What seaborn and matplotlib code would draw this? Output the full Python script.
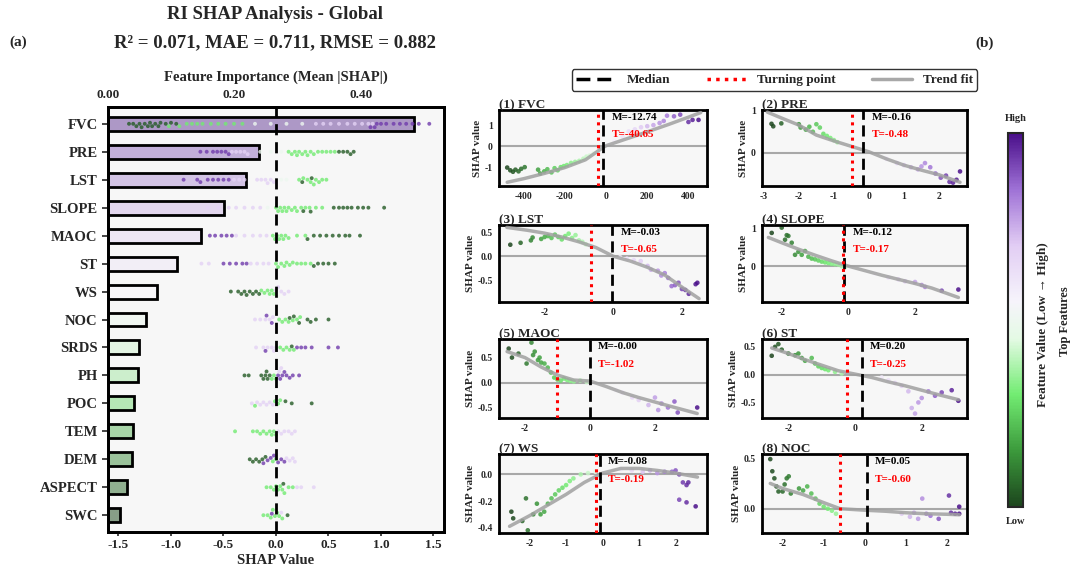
import numpy as np
import pandas as pd
import matplotlib
matplotlib.use("Agg")
import matplotlib.pyplot as plt
import seaborn as sns
from matplotlib.colors import LinearSegmentedColormap, Normalize
from matplotlib.cm import ScalarMappable
from matplotlib.lines import Line2D

sns.set_style("white")
plt.rcParams['font.family'] = ['Liberation Serif', 'DejaVu Serif']
plt.rcParams['font.weight'] = 'bold'
plt.rcParams['axes.labelweight'] = 'bold'
plt.rcParams['axes.titleweight'] = 'bold'
plt.rcParams['axes.unicode_minus'] = False

# ---------------- data: panel (a) ----------------
features = ["FVC", "PRE", "LST", "SLOPE", "MAOC", "ST", "WS", "NOC",
            "SRDS", "PH", "POC", "TEM", "DEM", "ASPECT", "SWC"]
importance = [0.484, 0.239, 0.218, 0.183, 0.147, 0.109, 0.077, 0.060,
              0.049, 0.047, 0.041, 0.040, 0.038, 0.030, 0.019]

# SHAP values per feature and feature-value level (0 low ... 4 high)
fvc_shap = [-1.40, -1.36, -1.33, -1.30, -1.28, -1.25, -1.22, -1.20, -1.18, -1.15, -1.12, -1.10, -1.05, -1.00, -0.95,
            -1.02, -0.92, -0.85, -0.80, -0.75, -0.70, -0.62, -0.55, -0.48, -0.40, -0.32,
            -0.20, -0.05, 0.10, 0.25,
            0.38, 0.45, 0.52, 0.60, 0.68, 0.75, 0.82, 0.88, 0.92,
            0.90, 0.94, 0.96, 1.00, 1.05, 1.12, 1.18, 1.24, 1.30, 1.36, 1.46]
fvc_lvl = [0] * 15 + [1] * 11 + [2] * 4 + [3] * 9 + [4] * 11
pre_shap = [-0.72, -0.66, -0.60, -0.56, -0.52, -0.48, -0.45,
            -0.42, -0.38, -0.34, -0.30, -0.27,
            -0.15, -0.05, 0.05,
            0.12, 0.15, 0.18, 0.20, 0.22, 0.25, 0.28, 0.30, 0.33, 0.36, 0.40, 0.44, 0.48, 0.52, 0.56,
            0.60, 0.64, 0.68, 0.71, 0.74]
pre_lvl = [4] * 7 + [3] * 5 + [2] * 3 + [1] * 15 + [0] * 5
lst_shap = [-0.88, -0.75, -0.72, -0.65, -0.60, -0.55, -0.50, -0.45,
            -0.40, -0.35, -0.30, -0.18, -0.14, -0.10, -0.08, -0.05, -0.02,
            0.05, 0.10,
            0.22, 0.26, 0.30, 0.33, 0.36, 0.38, 0.41, 0.44, 0.48,
            0.25, 0.34]
lst_lvl = [4] * 8 + [3] * 9 + [2] * 2 + [1] * 9 + [0] * 2
slope_shap = [-0.65, -0.55, -0.45, -0.38, -0.30, -0.22, -0.15,
              -0.08,
              0.00, 0.02, 0.04, 0.06, 0.08, 0.10, 0.12, 0.15, 0.18, 0.20, 0.24, 0.28, 0.32, 0.38, 0.44,
              0.26, 0.33, 0.55, 0.60, 0.64, 0.68, 0.72, 0.78, 0.83, 0.88, 1.03]
slope_lvl = [3] * 7 + [2] + [1] * 15 + [0] * 11
maoc_shap = [-0.63, -0.58, -0.52, -0.47, -0.42,
             -0.38, -0.30, -0.22, -0.15, -0.09,
             -0.03, -0.01, 0.01, 0.03, 0.05, 0.07, 0.09, 0.12, 0.20, 0.28,
             0.30, 0.36, 0.42, 0.48, 0.54, 0.60, 0.66, 0.70, 0.80]
maoc_lvl = [4] * 5 + [3] * 5 + [1] * 10 + [0] * 9
st_shap = [-0.71, -0.64,
           -0.50, -0.44, -0.38, -0.32, -0.28,
           -0.24, -0.18, -0.12, -0.07,
           0.00, 0.02, 0.05, 0.08, 0.10, 0.13, 0.16, 0.20, 0.24, 0.28, 0.33,
           0.36, 0.40, 0.45, 0.50, 0.56]
st_lvl = [3] * 2 + [4] * 5 + [3] * 4 + [1] * 11 + [0] * 5
ws_shap = [-0.43, -0.36, -0.33, -0.30, -0.28, -0.25, -0.22, -0.19, -0.16,
           -0.14, -0.11, -0.08, -0.06, -0.04, -0.02,
           0.00, 0.02, 0.05, 0.08, 0.12, 0.01]
ws_lvl = [0] * 9 + [1] * 6 + [3] * 5 + [2]
noc_shap = [-0.20, -0.15, -0.10, -0.06, -0.03,
            -0.09, -0.04,
            0.03, 0.06, 0.09, 0.12, 0.16, 0.20, 0.23,
            0.13, 0.17, 0.22, 0.30, 0.33, 0.38, 0.50]
noc_lvl = [3] * 5 + [4] * 2 + [1] * 7 + [0] * 7
srds_shap = [-0.19, -0.12, -0.08, -0.04, 0.00, -0.02,
             -0.10, 0.20, 0.24, 0.28, 0.34, 0.50, 0.59,
             0.04, 0.07, 0.10, 0.13, 0.17,
             0.15]
srds_lvl = [3] * 6 + [4] * 7 + [1] * 5 + [0]
ph_shap = [-0.30, -0.26, -0.14, -0.12, -0.10, -0.09, -0.08, -0.06,
           -0.04, -0.02, 0.00,
           0.02, 0.04, 0.06, 0.08, 0.10, 0.13, 0.16, 0.22,
           0.03, 0.05]
ph_lvl = [0] * 8 + [1] * 3 + [4] * 8 + [3] * 2
poc_shap = [-0.23, -0.18, -0.15, -0.12, -0.09, -0.06, -0.03,
            -0.20, -0.01, 0.02, 0.04,
            0.09, 0.15, 0.34,
            0.06]
poc_lvl = [3] * 7 + [1] * 4 + [0] * 3 + [2]
tem_shap = [-0.39, -0.22, -0.18, -0.15, -0.12, -0.09, -0.06, -0.04, -0.02, 0.00,
            0.02, 0.05, 0.08, 0.12, 0.15, 0.18]
tem_lvl = [1] * 10 + [3] * 6
dem_shap = [-0.25, -0.22, -0.19, -0.16, -0.13, -0.10,
            -0.12, -0.08, -0.05, -0.02, 0.02, 0.05, 0.08,
            0.10, 0.13, 0.16, 0.18,
            -0.03, 0.00]
dem_lvl = [0] * 6 + [4] * 7 + [3] * 4 + [1] * 2
aspect_shap = [-0.09, -0.05, -0.02, 0.00, 0.02, 0.04, 0.06, 0.08, 0.12, 0.16,
               0.07,
               0.20, 0.24, 0.36]
aspect_lvl = [1] * 10 + [0] + [3] * 3
swc_shap = [-0.12, -0.08, -0.05, -0.03, -0.01, 0.01, 0.03, 0.06,
            -0.04, 0.11, 0.05]
swc_lvl = [1] * 8 + [4, 0, 3]

# ---------------- data: panel (b) dependence plots ----------------
dep_names = ["FVC", "PRE", "LST", "SLOPE", "MAOC", "ST", "WS", "NOC"]
medians = [-12.74, -0.16, -0.03, -0.12, -0.00, 0.20, -0.08, 0.05]
turning = [-40.65, -0.48, -0.65, -0.17, -1.02, -0.25, -0.19, -0.60]

fvc_x = [-480, -465, -452, -440, -425, -412, -395, -330,
         -320, -300, -285, -265, -250, -235, -220, -205, -190, -170, -150, -130, -110, -95, -80, -60,
         40, 80, 110, 140, 170, 200, 230, 260, 280,
         296, 330, 360, 400, 420, 449]
fvc_y = [-1.02, -1.15, -1.22, -1.12, -1.20, -1.08, -1.00, -1.12,
         -1.30, -1.20, -1.10, -1.25, -1.05, -1.15, -1.00, -0.95, -0.90, -0.80, -0.75, -0.70, -0.60, -0.50, -0.45, -0.35,
         0.25, 0.45, 0.70, 0.80, 0.90, 0.95, 1.00, 1.10, 1.20,
         1.45, 1.42, 1.50, 1.15, 1.25, 1.25]
pre_x = [-2.78, -2.73, -2.50,
         -2.0, -1.95, -1.8, -1.7, -1.6, -1.5, -1.4, -1.3, -1.2, -1.1, -1.0, -0.9,
         0.5, 0.8, 1.0, 1.2, 1.4, 1.5, 1.6, 1.75, 1.9,
         2.05, 2.2, 2.3, 2.4, 2.5, 2.6]
pre_y = [0.69, 0.63, 0.70,
         0.68, 0.60, 0.55, 0.62, 0.50, 0.68, 0.60, 0.45, 0.40, 0.35, 0.30, 0.25,
         -0.15, -0.25, -0.30, -0.35, -0.40, -0.33, -0.25, -0.35, -0.50,
         -0.60, -0.55, -0.70, -0.72, -0.65, -0.45]
lst_x = [-3.0, -2.7, -2.4, -2.35,
         -2.1, -2.0, -1.9, -1.8, -1.7, -1.6, -1.5, -1.4, -1.3, -1.2, -1.1, -1.0, -0.9, -0.8,
         0.2, 0.4, 0.6, 0.8, 1.0, 1.1,
         1.3, 1.4, 1.5, 1.6, 1.7, 1.8, 1.9, 2.0, 2.1, 2.2, 2.4, 2.45]
lst_y = [0.24, 0.28, 0.33, 0.39,
         0.36, 0.40, 0.42, 0.38, 0.45, 0.40, 0.35, 0.42, 0.47, 0.38, 0.44, 0.33, 0.30, 0.25,
         -0.02, -0.05, -0.08, -0.10, -0.20, -0.28,
         -0.30, -0.40, -0.35, -0.45, -0.62, -0.60, -0.55, -0.68, -0.70, -0.78, -0.58, -0.55]
slope_x = [-2.3, -2.0, -1.9, -1.85, -1.8, -1.7,
           -1.6, -1.5, -1.4, -1.3, -1.2, -1.1, -1.0, -0.9, -0.8, -0.7, -0.6, -0.5, -0.4, -0.3, -0.2, -0.1,
           0.8, 1.2, 1.5, 1.7, 2.0, 2.2,
           2.3, 2.8, 3.3]
slope_y = [0.88, 1.02, 0.70, 0.82, 0.80, 0.62,
           0.30, 0.38, 0.30, 0.40, 0.25, 0.20, 0.18, 0.15, 0.12, 0.10, 0.08, 0.06, 0.05, 0.04, 0.00, -0.02,
           -0.20, -0.30, -0.35, -0.40, -0.42, -0.50,
           -0.55, -0.65, -0.62]
maoc_x = [-2.5, -2.4, -2.2, -1.95,
          -1.8, -1.75, -1.7, -1.6, -1.55, -1.5, -1.4, -1.3, -1.2, -1.1, -1.0, -0.9, -0.8, -0.7, -0.6, -0.5, -0.3, -0.1,
          0.8, 1.0, 1.3, 1.5, 1.8, 2.0, 2.1,
          2.2, 2.4, 2.6, 2.7, 3.3]
maoc_y = [0.68, 0.50, 0.58, 0.38,
          0.80, 0.55, 0.62, 0.45, 0.50, 0.40, 0.38, 0.30, 0.20, 0.10, 0.06, 0.04, 0.08, 0.05, 0.03, 0.02, 0.04, 0.01,
          -0.15, -0.20, -0.30, -0.35, -0.45, -0.30, -0.55,
          -0.42, -0.50, -0.38, -0.60, -0.50]
st_x = [-2.5, -2.4, -2.3, -2.2,
        -2.0, -1.8, -1.7, -1.6, -1.5, -1.3, -1.2, -1.1, -1.0, -0.9, -0.8, -0.6, -0.4,
        0.8, 1.0, 1.2, 1.4, 1.6, 1.7, 1.8, 1.9, 2.0,
        2.2, 2.4, 2.6, 2.9, 3.1]
st_y = [0.34, 0.50, 0.55, 0.45,
        0.38, 0.35, 0.38, 0.30, 0.25, 0.30, 0.20, 0.15, 0.12, 0.10, 0.08, 0.05, 0.02,
        -0.05, -0.10, -0.15, -0.20, -0.30, -0.60, -0.70, -0.50, -0.42,
        -0.30, -0.38, -0.32, -0.28, -0.47]
ws_x = [-2.5, -2.45, -2.2, -2.1, -2.05, -1.9, -1.8,
        -1.7, -1.6, -1.5, -1.4, -1.3, -1.2, -1.1, -1.0, -0.9, -0.8, -0.6, -0.4, -0.2,
        0.5, 0.8, 1.1, 1.3, 1.5, 1.7,
        1.9, 2.0, 2.1, 2.2, 2.3, 2.35, 2.1, 2.3, 2.55]
ws_y = [-0.28, -0.33, -0.35, -0.18, -0.42, -0.30, -0.22,
        -0.30, -0.28, -0.22, -0.18, -0.15, -0.12, -0.10, -0.08, -0.05, -0.03, 0.00, 0.01, 0.02,
        0.04, 0.03, 0.02, 0.03, 0.01, 0.02,
        0.02, 0.03, 0.00, -0.06, -0.08, -0.06, -0.19, -0.21, -0.24]
noc_x = [-2.3, -2.25, -2.2, -2.15, -2.1, -2.0, -1.95, -1.9, -1.85, -1.8,
         -1.6, -1.5, -1.4, -1.3, -1.2, -1.1, -1.0, -0.9, -0.8, -0.7,
         0.9, 1.1, 1.2, 1.3, 1.4, 1.5, 1.6, 1.8,
         2.05, 2.1, 2.2, 2.3, 2.3]
noc_y = [0.49, 0.37, 0.30, 0.22, 0.17, 0.17, 0.24, 0.30, 0.32, 0.15,
         0.20, 0.18, 0.22, 0.15, 0.10, 0.05, 0.02, 0.00, -0.02, -0.05,
         -0.05, -0.08, -0.04, -0.10, 0.10, -0.05, -0.07, -0.10,
         0.13, -0.04, -0.05, 0.02, -0.05]

# trend fits
fvc_tx = [-480, -400, -300, -200, -100, -20, 0, 100, 200, 300, 400, 460]
fvc_ty = [-1.72, -1.55, -1.30, -1.02, -0.65, -0.10, 0.02, 0.35, 0.68, 1.02, 1.38, 1.60]
pre_tx = [-2.9, -2.5, -2.0, -1.5, -1.0, -0.5, 0.0, 0.5, 1.0, 1.5, 2.0, 2.6]
pre_ty = [0.97, 0.83, 0.66, 0.42, 0.28, 0.15, 0.02, -0.15, -0.30, -0.42, -0.53, -0.71]
lst_tx = [-3.1, -2.5, -2.0, -1.5, -1.0, -0.5, 0.0, 0.5, 1.0, 1.5, 2.0, 2.5]
lst_ty = [0.60, 0.54, 0.48, 0.40, 0.30, 0.18, 0.00, -0.10, -0.23, -0.39, -0.64, -0.88]
slope_tx = [-2.4, -2.0, -1.5, -1.0, -0.5, 0.0, 0.5, 1.0, 1.5, 2.0, 2.5, 3.3]
slope_ty = [0.76, 0.62, 0.45, 0.29, 0.14, 0.00, -0.12, -0.24, -0.35, -0.46, -0.58, -0.83]
maoc_tx = [-2.55, -2.0, -1.5, -1.0, -0.5, 0.0, 0.5, 1.0, 1.5, 2.0, 2.5, 3.3]
maoc_ty = [0.62, 0.50, 0.31, 0.15, 0.05, 0.03, -0.08, -0.20, -0.30, -0.39, -0.48, -0.62]
st_tx = [-2.5, -2.0, -1.5, -1.0, -0.5, 0.0, 0.5, 1.0, 1.5, 2.0, 2.5, 3.1]
st_ty = [0.48, 0.38, 0.27, 0.17, 0.07, 0.01, -0.05, -0.13, -0.20, -0.28, -0.36, -0.45]
ws_tx = [-2.55, -2.0, -1.5, -1.0, -0.5, 0.0, 0.5, 1.0, 1.5, 2.0, 2.6]
ws_ty = [-0.39, -0.31, -0.23, -0.15, -0.06, 0.01, 0.045, 0.045, 0.03, 0.01, -0.02]
noc_tx = [-2.3, -2.0, -1.5, -1.0, -0.6, 0.0, 0.5, 1.0, 1.5, 2.0, 2.3]
noc_ty = [0.25, 0.20, 0.14, 0.06, 0.00, -0.015, -0.025, -0.04, -0.05, -0.055, -0.06]

# ---------------- colours ----------------
cmap = LinearSegmentedColormap.from_list(
    "gp", [(0.0, "#1c451d"), (0.15, "#3c9a3c"), (0.3, "#72ec72"), (0.45, "#e4fae4"),
           (0.55, "#f6f4fb"), (0.7, "#e2cdf4"), (0.85, "#9f72d6"), (1.0, "#4a0f8a")])
lvl_value = {0: 0.04, 1: 0.3, 2: 0.5, 3: 0.68, 4: 0.93}

# ---------------- build tables ----------------
sw_lists = [(fvc_shap, fvc_lvl), (pre_shap, pre_lvl), (lst_shap, lst_lvl), (slope_shap, slope_lvl),
            (maoc_shap, maoc_lvl), (st_shap, st_lvl), (ws_shap, ws_lvl), (noc_shap, noc_lvl),
            (srds_shap, srds_lvl), (ph_shap, ph_lvl), (poc_shap, poc_lvl), (tem_shap, tem_lvl),
            (dem_shap, dem_lvl), (aspect_shap, aspect_lvl), (swc_shap, swc_lvl)]
rows = []
for f, (s, l) in zip(features, sw_lists):
    for v, c in zip(s, l):
        rows.append({"feature": f, "shap": v, "level": lvl_value[c]})
df_sw = pd.DataFrame(rows)

dep_pts = [(fvc_x, fvc_y), (pre_x, pre_y), (lst_x, lst_y), (slope_x, slope_y),
           (maoc_x, maoc_y), (st_x, st_y), (ws_x, ws_y), (noc_x, noc_y)]
dep_trend = [(fvc_tx, fvc_ty), (pre_tx, pre_ty), (lst_tx, lst_ty), (slope_tx, slope_ty),
             (maoc_tx, maoc_ty), (st_tx, st_ty), (ws_tx, ws_ty), (noc_tx, noc_ty)]

# ---------------- figure ----------------
fig = plt.figure(figsize=(10.8, 5.76), dpi=100)

ax_sw = fig.add_axes([0.1, 0.0764, 0.3111, 0.7378])
ax_bar = ax_sw.twiny()
ax_bar.set_zorder(1)
ax_sw.set_zorder(2)
ax_sw.patch.set_visible(False)
ax_bar.patch.set_visible(True)
ax_bar.patch.set_facecolor("#f7f7f7")

# bars (feature importance, top axis)
bar_pos = np.linspace(0.93, 0.04, len(features))
bar_cols = []
for p in bar_pos:
    c = np.array(cmap(p)[:3])
    bar_cols.append(tuple(0.55 * c + 0.45 * np.array([0.97, 0.97, 0.97])))
sns.barplot(x=importance, y=features, hue=features, palette=bar_cols, orient="h",
            width=0.5, edgecolor="black", linewidth=2, legend=False, ax=ax_bar)
ax_bar.set_xlim(0, 0.531)
ax_bar.set_xticks([0.0, 0.2, 0.4])
ax_bar.set_xticklabels(["0.00", "0.20", "0.40"], fontsize=9.5)
ax_bar.set_xlabel("Feature Importance (Mean |SHAP|)", fontsize=10.5, labelpad=6)
ax_bar.tick_params(axis="x", length=0, pad=4)

# beeswarm (SHAP values, bottom axis)
sns.swarmplot(data=df_sw, x="shap", y="feature", hue="level", palette=cmap, hue_norm=(0, 1),
              order=features, orient="h", size=2.8, alpha=0.8, linewidth=0, legend=False, ax=ax_sw)
ax_sw.axvline(0, color="black", ls=(0, (4, 2.5)), lw=2, zorder=5)
ax_sw.set_xlim(-1.6, 1.6)
ax_sw.set_ylim(14.6, -0.6)
ax_sw.set_xticks([-1.5, -1.0, -0.5, 0.0, 0.5, 1.0, 1.5])
ax_sw.tick_params(axis="x", labelsize=9.5, length=3, width=1.2, pad=2)
ax_sw.tick_params(axis="y", labelsize=10.5, length=4, width=1.2, left=True)
ax_sw.set_xlabel("SHAP Value", fontsize=10.5, labelpad=2)
ax_sw.set_ylabel("")
ax_bar.set_ylabel("")
for ax in (ax_sw, ax_bar):
    for sp in ax.spines.values():
        sp.set_linewidth(2)
        sp.set_color("black")

fig.text(0.255, 0.975, "RI SHAP Analysis - Global", ha="center", va="center", fontsize=13.5)
fig.text(0.255, 0.926, "R² = 0.071, MAE = 0.711, RMSE = 0.882", ha="center", va="center", fontsize=13.5)
fig.text(0.017, 0.927, "(a)", ha="center", va="center", fontsize=11)
fig.text(0.912, 0.925, "(b)", ha="center", va="center", fontsize=11)

# ---------------- dependence panels ----------------
col_x = [0.462, 0.7056]
col_w = [0.1926, 0.1898]
row_y = [0.677, 0.4757, 0.2743, 0.0747]
row_h = [0.132, 0.1337, 0.137, 0.137]
xlims = [(-520, 490), (-3.05, 2.8), (-3.33, 2.73), (-2.59, 3.56),
         (-2.8, 3.6), (-2.79, 3.36), (-2.84, 2.86), (-2.5, 2.49)]
ylims = [(-1.9, 1.72), (-0.8, 1.02), (-0.95, 0.65), (-0.95, 1.09),
         (-0.71, 0.87), (-0.78, 0.64), (-0.44, 0.153), (-0.24, 0.54)]
xticks = [[-400, -200, 0, 200, 400], [-3, -2, -1, 0, 1, 2], [-2, 0, 2], [-2, 0, 2],
          [-2, 0, 2], [-2, 0, 2], [-2, -1, 0, 1, 2], [-2, -1, 0, 1, 2]]
yticks = [[-1, 0, 1], [0, 1], [-0.5, 0.0, 0.5], [0, 1],
          [-0.5, 0.0, 0.5], [-0.5, 0.0, 0.5], [-0.4, -0.2, 0.0], [0.0, 0.5]]

for i, name in enumerate(dep_names):
    r, c = divmod(i, 2)
    ax = fig.add_axes([col_x[c], row_y[r], col_w[c], row_h[r]])
    ax.set_facecolor("#f7f7f7")
    px, py = dep_pts[i]
    tx, ty = dep_trend[i]
    ax.axhline(0, color="#a8a8a8", lw=1.5, zorder=1)
    sns.scatterplot(x=px, y=py, hue=px, palette=cmap, hue_norm=(min(px), max(px)),
                    s=11, linewidth=0, alpha=0.85, legend=False, ax=ax, zorder=2)
    sns.lineplot(x=tx, y=ty, color="#a0a0a0", lw=2.5, alpha=0.85, ax=ax, zorder=3)
    ax.axvline(medians[i], color="black", ls=(0, (4, 2)), lw=2, zorder=4)
    ax.axvline(turning[i], color="red", ls=(0, (1, 1.5)), lw=2.2, zorder=4)
    ax.annotate(f"M={medians[i]:.2f}", xy=(medians[i], 0.9), xycoords=("data", "axes fraction"),
                xytext=(6, 0), textcoords="offset points", va="center", fontsize=8, color="black")
    ax.annotate(f"T={turning[i]:.2f}", xy=(medians[i], 0.68), xycoords=("data", "axes fraction"),
                xytext=(6, 0), textcoords="offset points", va="center", fontsize=8, color="red")
    ax.set_xlim(*xlims[i])
    ax.set_ylim(*ylims[i])
    ax.set_xticks(xticks[i])
    ax.set_yticks(yticks[i])
    ax.tick_params(labelsize=7, length=3, width=1.2, pad=1.5)
    ax.set_title(f"({i + 1}) {name}", loc="left", fontsize=9.5, pad=1.5)
    ax.set_ylabel("SHAP value", fontsize=8, labelpad=2)
    for sp in ax.spines.values():
        sp.set_linewidth(2)
        sp.set_color("black")

handles = [Line2D([0], [0], color="black", ls=(0, (4, 2)), lw=2.5),
           Line2D([0], [0], color="red", ls=(0, (1, 1.5)), lw=2.5),
           Line2D([0], [0], color="#a8a8a8", lw=2.5)]
fig.legend(handles, ["Median", "Turning point", "Trend fit"], loc="center",
           bbox_to_anchor=(0.717, 0.861), ncol=3, fontsize=9.5, frameon=True,
           edgecolor="black", fancybox=True, handlelength=3, columnspacing=2.8,
           borderpad=0.35)

# ---------------- colorbar ----------------
cax = fig.add_axes([0.9333, 0.1198, 0.0139, 0.649])
cb = fig.colorbar(ScalarMappable(norm=Normalize(0, 1), cmap=cmap), cax=cax)
cb.set_ticks([])
cb.outline.set_linewidth(1.5)
fig.text(0.9403, 0.795, "High", ha="center", va="center", fontsize=7.5)
fig.text(0.9403, 0.095, "Low", ha="center", va="center", fontsize=7.5)
fig.text(0.966, 0.436, "Feature Value (Low → High)", rotation=90, ha="center", va="center", fontsize=9.5)
fig.text(0.986, 0.443, "Top Features", rotation=90, ha="center", va="center", fontsize=9)

fig.savefig("out.png", dpi=100)
